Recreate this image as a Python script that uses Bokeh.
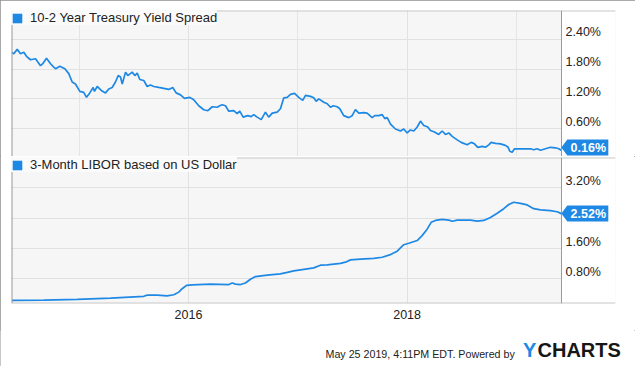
from bokeh.plotting import figure
from bokeh.models import (Range1d, FixedTicker, PrintfTickFormatter, Grid, Span, BoxAnnotation,
                          Legend, LegendItem)
from bokeh.layouts import column
from bokeh.embed import file_html
from bokeh.resources import INLINE
from bokeh.core.properties import value

# ---------------- data (decimal years, percent) ----------------
spread_year = [2014.385, 2014.402, 2014.433, 2014.463, 2014.494, 2014.518, 2014.555, 2014.601,
               2014.646, 2014.667, 2014.701, 2014.738, 2014.768, 2014.784, 2014.823, 2014.869,
               2014.905, 2014.936, 2014.966, 2015.006, 2015.042, 2015.067, 2015.097, 2015.128,
               2015.140, 2015.165, 2015.202, 2015.241, 2015.271, 2015.302, 2015.332, 2015.357,
               2015.378, 2015.394, 2015.424, 2015.445, 2015.485, 2015.509, 2015.531, 2015.555,
               2015.591, 2015.622, 2015.652, 2015.683, 2015.728, 2015.774, 2015.820, 2015.856,
               2015.887, 2015.927, 2015.963, 2016.012, 2016.048, 2016.094, 2016.140, 2016.177,
               2016.217, 2016.263, 2016.286, 2016.308, 2016.338, 2016.369, 2016.414, 2016.445,
               2016.469, 2016.500, 2016.542, 2016.573, 2016.597, 2016.628, 2016.665, 2016.704,
               2016.734, 2016.766, 2016.811, 2016.841, 2016.872, 2016.903, 2016.933, 2016.970,
               2017.009, 2017.045, 2017.070, 2017.116, 2017.146, 2017.168, 2017.192, 2017.238,
               2017.269, 2017.299, 2017.324, 2017.360, 2017.384, 2017.420, 2017.466, 2017.497,
               2017.527, 2017.558, 2017.603, 2017.634, 2017.680, 2017.704, 2017.741, 2017.772,
               2017.796, 2017.818, 2017.848, 2017.893, 2017.939, 2017.969, 2018.000, 2018.030,
               2018.061, 2018.092, 2018.122, 2018.152, 2018.189, 2018.213, 2018.250, 2018.289,
               2018.320, 2018.351, 2018.381, 2018.412, 2018.458, 2018.494, 2018.549, 2018.586,
               2018.616, 2018.646, 2018.686, 2018.716, 2018.747, 2018.769, 2018.808, 2018.854,
               2018.899, 2018.924, 2018.939, 2018.961, 2018.982, 2019.021, 2019.067, 2019.128,
               2019.158, 2019.189, 2019.220, 2019.265, 2019.311, 2019.357, 2019.387, 2019.410]
spread_pct = [2.14, 2.11, 2.20, 2.11, 2.14, 2.06, 1.99, 2.01,
              1.87, 1.91, 2.02, 1.91, 1.84, 1.81, 1.86, 1.81,
              1.71, 1.54, 1.50, 1.35, 1.33, 1.23, 1.32, 1.43,
              1.35, 1.45, 1.37, 1.32, 1.40, 1.43, 1.54, 1.67,
              1.64, 1.50, 1.74, 1.67, 1.74, 1.67, 1.72, 1.59,
              1.57, 1.45, 1.48, 1.45, 1.43, 1.41, 1.39, 1.43,
              1.32, 1.28, 1.21, 1.23, 1.18, 1.06, 0.98, 0.96,
              1.04, 1.03, 1.06, 1.08, 1.06, 0.95, 0.96, 0.90,
              0.95, 0.83, 0.86, 0.84, 0.88, 0.83, 0.78, 0.93,
              0.83, 0.91, 0.93, 1.00, 1.22, 1.23, 1.29, 1.31,
              1.23, 1.17, 1.27, 1.25, 1.22, 1.15, 1.20, 1.13,
              1.10, 1.03, 1.06, 1.04, 1.00, 0.86, 0.82, 0.86,
              0.98, 0.91, 0.92, 0.91, 0.82, 0.86, 0.86, 0.88,
              0.80, 0.82, 0.69, 0.59, 0.55, 0.59, 0.51, 0.57,
              0.55, 0.63, 0.75, 0.66, 0.63, 0.56, 0.53, 0.48,
              0.55, 0.48, 0.51, 0.44, 0.37, 0.32, 0.27, 0.32,
              0.29, 0.22, 0.24, 0.22, 0.27, 0.32, 0.30, 0.29,
              0.26, 0.22, 0.14, 0.12, 0.19, 0.19, 0.19, 0.19,
              0.17, 0.19, 0.16, 0.19, 0.22, 0.21, 0.19, 0.16]

libor_year = [2014.385, 2014.677, 2014.982, 2015.287, 2015.591, 2015.622, 2015.714, 2015.805,
              2015.866, 2015.911, 2015.942, 2015.982, 2016.034, 2016.201, 2016.369, 2016.400,
              2016.430, 2016.476, 2016.521, 2016.567, 2016.613, 2016.720, 2016.841, 2016.903,
              2016.963, 2017.055, 2017.146, 2017.207, 2017.269, 2017.390, 2017.436, 2017.482,
              2017.573, 2017.695, 2017.772, 2017.848, 2017.909, 2017.969, 2018.015, 2018.092,
              2018.137, 2018.183, 2018.220, 2018.259, 2018.320, 2018.381, 2018.412, 2018.458,
              2018.579, 2018.641, 2018.701, 2018.762, 2018.824, 2018.884, 2018.930, 2018.975,
              2019.037, 2019.098, 2019.158, 2019.220, 2019.311, 2019.372, 2019.410]
libor_pct = [0.23, 0.24, 0.26, 0.29, 0.34, 0.37, 0.37, 0.35,
             0.38, 0.45, 0.54, 0.63, 0.64, 0.66, 0.65, 0.69,
             0.66, 0.65, 0.69, 0.79, 0.86, 0.90, 0.93, 0.97,
             1.01, 1.05, 1.09, 1.16, 1.17, 1.21, 1.24, 1.30,
             1.32, 1.34, 1.37, 1.44, 1.53, 1.70, 1.74, 1.81,
             1.94, 2.11, 2.29, 2.34, 2.37, 2.35, 2.32, 2.35,
             2.35, 2.32, 2.34, 2.42, 2.53, 2.65, 2.76, 2.82,
             2.79, 2.75, 2.65, 2.62, 2.60, 2.57, 2.52]

spread_ticks = [0.6, 1.2, 1.8, 2.4]
libor_ticks = [0.8, 1.6, 2.4, 3.2]
year_ticks = [2016, 2018]
spread_name = "10-2 Year Treasury Yield Spread"
libor_name = "3-Month LIBOR based on US Dollar"
footer_text = "May 25 2019, 4:11PM EDT.  Powered by"
logo_a, logo_b = "Y", "CHARTS"

# ---------------- style / layout ----------------
BLUE = "#1e88e5"
FONT = "Liberation Sans"
W = 635
BL, BR = 11, 20          # left / right borders -> frame 604 px wide
PLOT_W, EXT_W = 550, 54  # grey plot area and white label strip inside frame
FH = 146                 # frame height of each panel
X_START, X_END = 2014.381, 2019.412
x_ext = X_END + (X_END - X_START) * EXT_W / PLOT_W
x_range = Range1d(X_START, x_ext)
DXP = (x_ext - X_START) / (PLOT_W + EXT_W)


def panel(xs, ys, y0, y1, ticks, name, top_b, bottom_b, show_x):
    h = top_b + FH + bottom_b
    p = figure(width=W, height=h, x_range=x_range, y_range=Range1d(y0, y1),
               output_backend="svg", toolbar_location=None,
               x_axis_location="below" if show_x else None, y_axis_location="right",
               min_border_left=BL, min_border_right=BR, min_border_top=top_b,
               min_border_bottom=bottom_b, background_fill_color="#f6f6f6",
               border_fill_color="white", outline_line_color=None)
    dyp = (y1 - y0) / FH

    # y axis (labels sit inside the white strip at the right, just above their gridline)
    yax = p.yaxis[0]
    yax.ticker = FixedTicker(ticks=ticks)
    yax.formatter = PrintfTickFormatter(format="%.2f%%\n")
    yax.axis_line_color = None
    yax.major_tick_line_color = None
    yax.minor_tick_line_color = None
    yax.major_tick_out = 0
    yax.major_tick_in = 0
    yax.major_label_standoff = -50
    yax.major_label_text_font = FONT
    yax.major_label_text_font_size = "12.5px"
    yax.major_label_text_color = "#222222"
    yax.major_label_text_line_height = 1.0
    p.ygrid.ticker = FixedTicker(ticks=ticks)
    p.ygrid.grid_line_color = "#e1e1e1"

    if show_x:
        xax = p.xaxis[0]
        xax.ticker = FixedTicker(ticks=year_ticks)
        xax.formatter = PrintfTickFormatter(format="%d")
        xax.axis_line_color = None
        xax.major_tick_line_color = None
        xax.minor_tick_line_color = None
        xax.major_tick_out = 0
        xax.major_tick_in = 0
        xax.major_label_standoff = 6
        xax.major_label_text_font = FONT
        xax.major_label_text_font_size = "12.5px"
        xax.major_label_text_color = "#222222"
        p.xgrid.ticker = FixedTicker(ticks=year_ticks)
        p.xgrid.grid_line_color = "#e1e1e1"
    else:
        p.add_layout(Grid(dimension=0, ticker=FixedTicker(ticks=year_ticks),
                          grid_line_color="#e1e1e1"))

    # white strip right of the plot area
    p.add_layout(BoxAnnotation(left=X_END, fill_color="white", fill_alpha=1.0,
                               line_color=None, level="glyph"))

    p.line(xs, ys, line_color=BLUE, line_width=1.7)

    # legend with a square swatch (zero-size quad at the last point, only used for the legend)
    swatch = p.quad(left=[xs[-1]], right=[xs[-1]], top=[ys[-1]], bottom=[ys[-1]],
                    fill_color=BLUE, line_color=None)
    legend = Legend(items=[LegendItem(label=name, renderers=[swatch])], location="top_left",
                    margin=0, padding=5, glyph_width=12, glyph_height=12, label_standoff=7,
                    label_height=12, label_text_font=FONT, label_text_font_size="13px",
                    label_text_color="#222222", background_fill_color="#fbfbfb",
                    background_fill_alpha=0.95, border_line_color=None)
    p.add_layout(legend)

    # last-value tag
    half = 8 * dyp
    yc = min(max(ys[-1], y0 + half + dyp), y1 - half)
    tx = xs[-1]
    p.patch([tx, tx + 6 * DXP, tx + 47 * DXP, tx + 47 * DXP, tx + 6 * DXP],
            [yc, yc + half, yc + half, yc - half, yc - half],
            fill_color=BLUE, line_color=None, level="overlay")
    p.text([tx + 27 * DXP], [yc], text=["%.2f%%" % ys[-1]], text_font=value(FONT),
           text_font_style="bold", text_font_size="12.5px", text_color="white",
           text_align="center", text_baseline="middle", level="overlay")

    # frame borders
    p.add_layout(Span(location=y1, dimension="width", line_color="#c9c9c9", line_width=2))
    if show_x:
        p.add_layout(Span(location=y0, dimension="width", line_color="#c9c9c9", line_width=2))
    p.add_layout(Span(location=X_START, dimension="height", line_color="#9a9a9a", line_width=2))
    p.add_layout(Span(location=X_END, dimension="height", line_color="#9a9a9a", line_width=1))
    return p


top = panel(spread_year, spread_pct, 0.034, 2.986, spread_ticks, spread_name, 10, 0, False)
bottom = panel(libor_year, libor_pct, 0.15, 4.0, libor_ticks, libor_name, 1, 27, True)

# footer strip (pixel coordinates, y downward); not aligned to the panels' frames
FOOT_H = 36
foot = figure(width=W, height=FOOT_H, x_range=Range1d(0, W), y_range=Range1d(FOOT_H, 0),
              output_backend="svg", toolbar_location=None, x_axis_location=None,
              y_axis_location=None, min_border=0, outline_line_color=None,
              background_fill_color="white", border_fill_color="white")
foot.frame_align = False
foot.xgrid.visible = False
foot.ygrid.visible = False
foot.text([325], [23.2], text=[footer_text], text_font=value(FONT), text_font_size="10.7px",
          text_color="#222222", text_baseline="middle", text_align="left")
foot.text([522.5], [19.6], text=[logo_a], text_font=value(FONT), text_font_style="bold",
          text_font_size="20px", text_color="#1a8ae6", text_baseline="middle",
          text_align="left")
foot.text([537], [19.6], text=[logo_b], text_font=value(FONT), text_font_style="bold",
          text_font_size="20px", text_color="#161616", text_baseline="middle",
          text_align="left")

layout = column(top, bottom, foot, spacing=0,
                styles={"outline": "1px solid #8e8e8e", "outline-offset": "-1px"})
open("out.html", "w").write(file_html(layout, INLINE))
